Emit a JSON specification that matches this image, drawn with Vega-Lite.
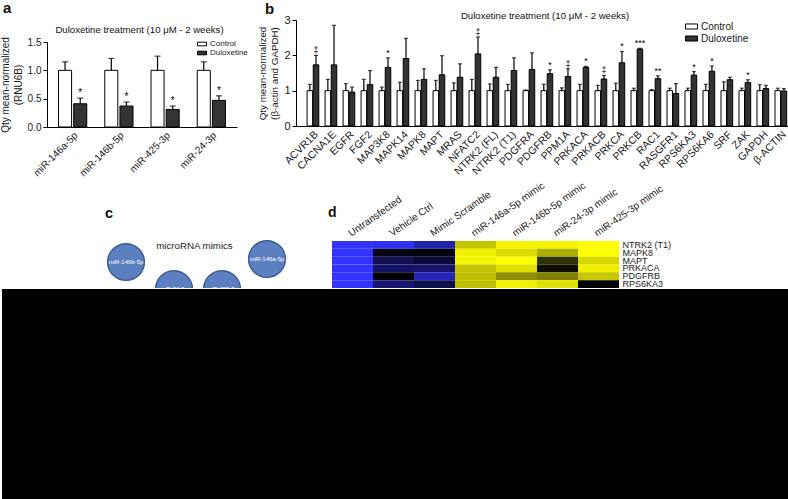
{
  "$schema": "https://vega.github.io/schema/vega-lite/v6.json",
  "padding": 0,
  "background": "white",
  "config": {
    "font": "Liberation Sans",
    "view": {"stroke": null},
    "axis": {"labelFont": "Liberation Sans", "titleFont": "Liberation Sans", "labelColor": "#1a1a1a", "titleColor": "#1a1a1a", "domainColor": "#000000", "tickColor": "#000000", "grid": false, "titleFontWeight": "normal"},
    "legend": {"labelFont": "Liberation Sans", "labelColor": "#1a1a1a"},
    "title": {"font": "Liberation Sans", "color": "#111111"}
  },
  "datasets": {
    "dA": [
      {"g": "miR-146a-5p", "grp": "Control", "v": 1.0, "e": 1.15, "s": ""},
      {"g": "miR-146a-5p", "grp": "Duloxetine", "v": 0.41, "e": 0.51, "s": "*"},
      {"g": "miR-146b-5p", "grp": "Control", "v": 1.0, "e": 1.21, "s": ""},
      {"g": "miR-146b-5p", "grp": "Duloxetine", "v": 0.37, "e": 0.44, "s": "*"},
      {"g": "miR-425-3p", "grp": "Control", "v": 1.0, "e": 1.25, "s": ""},
      {"g": "miR-425-3p", "grp": "Duloxetine", "v": 0.31, "e": 0.37, "s": "*"},
      {"g": "miR-24-3p", "grp": "Control", "v": 1.0, "e": 1.15, "s": ""},
      {"g": "miR-24-3p", "grp": "Duloxetine", "v": 0.47, "e": 0.55, "s": "*"}
    ],
    "dB": [
      {"g": "ACVR1B", "grp": "Control", "v": 1, "e": 1.18, "s": ""},
      {"g": "ACVR1B", "grp": "Duloxetine", "v": 1.73, "e": 2.0, "s": "‡"},
      {"g": "CACNA1E", "grp": "Control", "v": 1, "e": 1.32, "s": ""},
      {"g": "CACNA1E", "grp": "Duloxetine", "v": 1.73, "e": 2.85, "s": ""},
      {"g": "EGFR", "grp": "Control", "v": 1, "e": 1.2, "s": ""},
      {"g": "EGFR", "grp": "Duloxetine", "v": 0.96, "e": 1.1, "s": ""},
      {"g": "FGF2", "grp": "Control", "v": 1, "e": 1.32, "s": ""},
      {"g": "FGF2", "grp": "Duloxetine", "v": 1.17, "e": 1.57, "s": ""},
      {"g": "MAP3K8", "grp": "Control", "v": 1, "e": 1.1, "s": ""},
      {"g": "MAP3K8", "grp": "Duloxetine", "v": 1.66, "e": 1.93, "s": "*"},
      {"g": "MAPK14", "grp": "Control", "v": 1, "e": 1.24, "s": ""},
      {"g": "MAPK14", "grp": "Duloxetine", "v": 1.91, "e": 2.48, "s": ""},
      {"g": "MAPK8", "grp": "Control", "v": 1, "e": 1.29, "s": ""},
      {"g": "MAPK8", "grp": "Duloxetine", "v": 1.32, "e": 1.62, "s": ""},
      {"g": "MAPT", "grp": "Control", "v": 1, "e": 1.29, "s": ""},
      {"g": "MAPT", "grp": "Duloxetine", "v": 1.45, "e": 1.99, "s": ""},
      {"g": "MRAS", "grp": "Control", "v": 1, "e": 1.22, "s": ""},
      {"g": "MRAS", "grp": "Duloxetine", "v": 1.38, "e": 1.76, "s": ""},
      {"g": "NFATC2", "grp": "Control", "v": 1, "e": 1.32, "s": ""},
      {"g": "NFATC2", "grp": "Duloxetine", "v": 2.04, "e": 2.52, "s": "‡"},
      {"g": "NTRK2 (FL)", "grp": "Control", "v": 1, "e": 1.19, "s": ""},
      {"g": "NTRK2 (FL)", "grp": "Duloxetine", "v": 1.38, "e": 1.66, "s": ""},
      {"g": "NTRK2 (T1)", "grp": "Control", "v": 1, "e": 1.18, "s": ""},
      {"g": "NTRK2 (T1)", "grp": "Duloxetine", "v": 1.57, "e": 1.93, "s": ""},
      {"g": "PDGFRA", "grp": "Control", "v": 1, "e": 1.02, "s": ""},
      {"g": "PDGFRA", "grp": "Duloxetine", "v": 1.6, "e": 2.07, "s": ""},
      {"g": "PDGFRB", "grp": "Control", "v": 1, "e": 1.18, "s": ""},
      {"g": "PDGFRB", "grp": "Duloxetine", "v": 1.48, "e": 1.59, "s": "*"},
      {"g": "PPM1A", "grp": "Control", "v": 1, "e": 1.08, "s": ""},
      {"g": "PPM1A", "grp": "Duloxetine", "v": 1.4, "e": 1.62, "s": "‡"},
      {"g": "PRKACA", "grp": "Control", "v": 1, "e": 1.18, "s": ""},
      {"g": "PRKACA", "grp": "Duloxetine", "v": 1.66, "e": 1.69, "s": "*"},
      {"g": "PRKACB", "grp": "Control", "v": 1, "e": 1.15, "s": ""},
      {"g": "PRKACB", "grp": "Duloxetine", "v": 1.33, "e": 1.43, "s": "‡"},
      {"g": "PRKCA", "grp": "Control", "v": 1, "e": 1.21, "s": ""},
      {"g": "PRKCA", "grp": "Duloxetine", "v": 1.79, "e": 2.11, "s": "*"},
      {"g": "PRKCB", "grp": "Control", "v": 1, "e": 1.07, "s": ""},
      {"g": "PRKCB", "grp": "Duloxetine", "v": 2.18, "e": 2.2, "s": "***"},
      {"g": "RAC1", "grp": "Control", "v": 1, "e": 1.03, "s": ""},
      {"g": "RAC1", "grp": "Duloxetine", "v": 1.34, "e": 1.42, "s": "**"},
      {"g": "RASGFR1", "grp": "Control", "v": 1, "e": 1.07, "s": ""},
      {"g": "RASGFR1", "grp": "Duloxetine", "v": 0.92, "e": 1.2, "s": ""},
      {"g": "RPS6KA3", "grp": "Control", "v": 1, "e": 1.07, "s": ""},
      {"g": "RPS6KA3", "grp": "Duloxetine", "v": 1.44, "e": 1.54, "s": "*"},
      {"g": "RPS6KA6", "grp": "Control", "v": 1, "e": 1.18, "s": ""},
      {"g": "RPS6KA6", "grp": "Duloxetine", "v": 1.55, "e": 1.7, "s": "*"},
      {"g": "SRF", "grp": "Control", "v": 1, "e": 1.25, "s": ""},
      {"g": "SRF", "grp": "Duloxetine", "v": 1.31, "e": 1.38, "s": ""},
      {"g": "ZAK", "grp": "Control", "v": 1, "e": 1.07, "s": ""},
      {"g": "ZAK", "grp": "Duloxetine", "v": 1.23, "e": 1.31, "s": "*"},
      {"g": "GAPDH", "grp": "Control", "v": 1, "e": 1.17, "s": ""},
      {"g": "GAPDH", "grp": "Duloxetine", "v": 1.06, "e": 1.15, "s": ""},
      {"g": "β-ACTIN", "grp": "Control", "v": 1, "e": 1.07, "s": ""},
      {"g": "β-ACTIN", "grp": "Duloxetine", "v": 0.99, "e": 1.06, "s": ""}
    ],
    "circ": [
      {"x": 124, "y": 81, "t": "miR-146b-5p"},
      {"x": 172, "y": 108, "t": "miR-24-3p"},
      {"x": 220, "y": 108, "t": "miR-425-3p"},
      {"x": 265, "y": 78, "t": "miR-146a-5p"}
    ],
    "cLetter": [{"x": 103, "y": 37, "t": "c"}],
    "cText": [{"x": 192.5, "y": 65, "t": "microRNA mimics"}],
    "hm": [
      {"r": "NTRK2 (T1)", "c": "Untransfected", "v": -1},
      {"r": "NTRK2 (T1)", "c": "Vehicle Ctrl", "v": -0.95},
      {"r": "NTRK2 (T1)", "c": "Mimic Scramble", "v": -0.68},
      {"r": "NTRK2 (T1)", "c": "miR-146a-5p mimic", "v": 0.77},
      {"r": "NTRK2 (T1)", "c": "miR-146b-5p mimic", "v": 0.96},
      {"r": "NTRK2 (T1)", "c": "miR-24-3p mimic", "v": 0.96},
      {"r": "NTRK2 (T1)", "c": "miR-425-3p mimic", "v": 1.0},
      {"r": "MAPK8", "c": "Untransfected", "v": -1},
      {"r": "MAPK8", "c": "Vehicle Ctrl", "v": -0.08},
      {"r": "MAPK8", "c": "Mimic Scramble", "v": -0.05},
      {"r": "MAPK8", "c": "miR-146a-5p mimic", "v": 0.94},
      {"r": "MAPK8", "c": "miR-146b-5p mimic", "v": 0.86},
      {"r": "MAPK8", "c": "miR-24-3p mimic", "v": 0.68},
      {"r": "MAPK8", "c": "miR-425-3p mimic", "v": 1.0},
      {"r": "MAPT", "c": "Untransfected", "v": -1},
      {"r": "MAPT", "c": "Vehicle Ctrl", "v": -0.33},
      {"r": "MAPT", "c": "Mimic Scramble", "v": -0.22},
      {"r": "MAPT", "c": "miR-146a-5p mimic", "v": 0.96},
      {"r": "MAPT", "c": "miR-146b-5p mimic", "v": 1.0},
      {"r": "MAPT", "c": "miR-24-3p mimic", "v": 0.19},
      {"r": "MAPT", "c": "miR-425-3p mimic", "v": 0.85},
      {"r": "PRKACA", "c": "Untransfected", "v": -1},
      {"r": "PRKACA", "c": "Vehicle Ctrl", "v": -0.4},
      {"r": "PRKACA", "c": "Mimic Scramble", "v": -0.42},
      {"r": "PRKACA", "c": "miR-146a-5p mimic", "v": 0.77},
      {"r": "PRKACA", "c": "miR-146b-5p mimic", "v": 0.88},
      {"r": "PRKACA", "c": "miR-24-3p mimic", "v": 0.06},
      {"r": "PRKACA", "c": "miR-425-3p mimic", "v": 0.94},
      {"r": "PDGFRB", "c": "Untransfected", "v": -1},
      {"r": "PDGFRB", "c": "Vehicle Ctrl", "v": -0.02},
      {"r": "PDGFRB", "c": "Mimic Scramble", "v": -0.72},
      {"r": "PDGFRB", "c": "miR-146a-5p mimic", "v": 0.74},
      {"r": "PDGFRB", "c": "miR-146b-5p mimic", "v": 0.56},
      {"r": "PDGFRB", "c": "miR-24-3p mimic", "v": 0.5},
      {"r": "PDGFRB", "c": "miR-425-3p mimic", "v": 0.78},
      {"r": "RPS6KA3", "c": "Untransfected", "v": -1},
      {"r": "RPS6KA3", "c": "Vehicle Ctrl", "v": -0.45},
      {"r": "RPS6KA3", "c": "Mimic Scramble", "v": -0.3},
      {"r": "RPS6KA3", "c": "miR-146a-5p mimic", "v": 0.74},
      {"r": "RPS6KA3", "c": "miR-146b-5p mimic", "v": 0.94},
      {"r": "RPS6KA3", "c": "miR-24-3p mimic", "v": 0.88},
      {"r": "RPS6KA3", "c": "miR-425-3p mimic", "v": 0.0}
    ]
  },
  "spacing": 0,
  "vconcat": [
    {
      "spacing": 0,
      "hconcat": [
        {
          "title": {"text": "a", "anchor": "start", "frame": "bounds", "fontSize": 15, "fontWeight": "bold", "offset": -16, "dx": 3},
          "vconcat": [
            {
              "width": 250,
              "height": 180,
              "data": {"name": "dA"},
              "title": {"text": "Duloxetine treatment (10 μM - 2 weeks)", "frame": "group", "anchor": "middle", "fontSize": 9.6, "fontWeight": "normal", "offset": -35, "dx": 12.5},
              "encoding": {
                "x": {"field": "g", "type": "nominal", "sort": null, "scale": {"range": [45, 235], "paddingInner": 0.39, "paddingOuter": 0.25}, "axis": {"title": null, "labelAngle": -45, "labelFontSize": 10, "ticks": false, "labelPadding": 3, "offset": -53}},
                "xOffset": {"field": "grp", "type": "nominal", "sort": ["Control", "Duloxetine"], "scale": {"paddingInner": 0.14}}
              },
              "layer": [
                {
                  "mark": {"type": "bar", "stroke": "#000000", "strokeWidth": 1},
                  "encoding": {
                    "y": {"field": "v", "type": "quantitative", "scale": {"domain": [0, 1.5], "nice": false, "range": [127, 42]}, "axis": {"title": ["Qty mean-normalized", "(RNU6B)"], "values": [0, 0.5, 1, 1.5], "format": ".1f", "labelFontSize": 10, "tickSize": 4, "labelPadding": 2, "labelOverlap": false, "titleFontSize": 10, "titlePadding": 4, "titleLineHeight": 13, "offset": -45}},
                    "fill": {"field": "grp", "type": "nominal", "scale": {"domain": ["Control", "Duloxetine"], "range": ["#ffffff", "#333333"]}, "legend": {"title": null, "orient": "none", "legendX": 195, "legendY": 39, "labelFontSize": 8, "symbolType": "M-1,-0.4H1V0.4H-1Z", "symbolSize": 81, "symbolStrokeColor": "#000000", "symbolStrokeWidth": 1, "rowPadding": 0, "labelOffset": 3, "padding": 0}}
                  }
                },
                {
                  "mark": {"type": "rule", "strokeWidth": 1.2, "color": "#000000"},
                  "encoding": {"y": {"field": "v", "type": "quantitative"}, "y2": {"field": "e"}}
                },
                {
                  "mark": {"type": "tick", "thickness": 1.2, "size": 6, "color": "#000000"},
                  "encoding": {"y": {"field": "e", "type": "quantitative"}}
                },
                {
                  "mark": {"type": "text", "fontSize": 10, "dy": -5, "fill": "#000000"},
                  "encoding": {"y": {"field": "e", "type": "quantitative"}, "text": {"field": "s"}}
                }
              ]
            }
          ]
        },
        {
          "title": {"text": "b", "anchor": "start", "frame": "bounds", "fontSize": 15, "fontWeight": "bold", "offset": -17, "dx": 13},
          "vconcat": [
            {
              "width": 538,
              "height": 180,
              "data": {"name": "dB"},
              "title": {"text": "Duloxetine treatment (10 μM - 2 weeks)", "frame": "group", "anchor": "middle", "fontSize": 9.6, "fontWeight": "normal", "offset": -21, "dx": 24},
              "encoding": {
                "x": {"field": "g", "type": "nominal", "sort": null, "scale": {"range": [44, 538], "paddingInner": 0.35, "paddingOuter": 0.4, "align": 0.77}, "axis": {"title": null, "labelAngle": -45, "labelFontSize": 10.5, "ticks": false, "labelPadding": 3, "offset": -54}},
                "xOffset": {"field": "grp", "type": "nominal", "sort": ["Control", "Duloxetine"], "scale": {"paddingInner": 0.1}}
              },
              "layer": [
                {
                  "mark": {"type": "bar", "stroke": "#000000", "strokeWidth": 1},
                  "encoding": {
                    "y": {"field": "v", "type": "quantitative", "scale": {"domain": [0, 3], "nice": false, "range": [126, 20]}, "axis": {"title": ["Qty mean-normalized", "(β-actin and GAPDH)"], "values": [0, 1, 2, 3], "format": "d", "labelFontSize": 11, "tickSize": 4, "labelPadding": 2, "labelOverlap": false, "titleFontSize": 9.8, "titlePadding": 4, "titleLineHeight": 12, "offset": -44}},
                    "fill": {"field": "grp", "type": "nominal", "scale": {"domain": ["Control", "Duloxetine"], "range": ["#ffffff", "#333333"]}, "legend": {"title": null, "orient": "none", "legendX": 433, "legendY": 20, "labelFontSize": 10, "symbolType": "M-1,-0.42H1V0.42H-1Z", "symbolSize": 144, "symbolStrokeColor": "#000000", "symbolStrokeWidth": 1, "rowPadding": 0, "labelOffset": 3, "padding": 0}}
                  }
                },
                {
                  "mark": {"type": "rule", "strokeWidth": 1.2, "color": "#000000"},
                  "encoding": {"y": {"field": "v", "type": "quantitative"}, "y2": {"field": "e"}}
                },
                {
                  "mark": {"type": "tick", "thickness": 1.2, "size": 4, "color": "#000000"},
                  "encoding": {"y": {"field": "e", "type": "quantitative"}}
                },
                {
                  "mark": {"type": "text", "fontSize": 9, "dy": -5, "fill": "#000000"},
                  "encoding": {"y": {"field": "e", "type": "quantitative"}, "text": {"field": "s"}}
                }
              ]
            }
          ]
        }
      ],
      "resolve": {"scale": {"fill": "independent", "x": "independent", "y": "independent", "xOffset": "independent"}, "legend": {"fill": "independent"}}
    },
    {
      "spacing": 0,
      "hconcat": [
        {
          "width": 325,
          "height": 107,
          "encoding": {
            "x": {"field": "x", "type": "quantitative", "scale": {"domain": [0, 325], "nice": false, "zero": false}, "axis": null},
            "y": {"field": "y", "type": "quantitative", "scale": {"domain": [107, 0], "nice": false, "zero": false}, "axis": null}
          },
          "layer": [
            {
              "data": {"name": "circ"},
              "mark": {"type": "point", "shape": "circle", "filled": true, "fill": "#5b7fbf", "stroke": "#3d5e99", "strokeWidth": 1.5, "opacity": 1, "size": 1350, "clip": true}
            },
            {
              "data": {"name": "circ"},
              "mark": {"type": "text", "fill": "#ffffff", "fontSize": 6, "clip": true},
              "encoding": {"text": {"field": "t"}}
            },
            {
              "data": {"name": "cLetter"},
              "mark": {"type": "text", "fontSize": 14.5, "fontWeight": "bold", "align": "left", "baseline": "alphabetic", "fill": "#111111"},
              "encoding": {"text": {"field": "t"}}
            },
            {
              "data": {"name": "cText"},
              "mark": {"type": "text", "fontSize": 9.7, "align": "center", "baseline": "middle", "fill": "#222222"},
              "encoding": {"text": {"field": "t"}}
            }
          ]
        },
        {
          "width": 463,
          "height": 107,
          "data": {"name": "hm"},
          "title": {"text": "d", "anchor": "start", "frame": "group", "fontSize": 14, "fontWeight": "bold", "dx": 1, "offset": -40},
          "mark": {"type": "rect"},
          "encoding": {
            "x": {"field": "c", "type": "nominal", "sort": null, "scale": {"range": [5, 292], "paddingInner": 0, "paddingOuter": 0}, "axis": {"orient": "top", "title": null, "labelAngle": -35, "labelAlign": "left", "labelBaseline": "bottom", "ticks": false, "domain": false, "labelFontSize": 10, "labelPadding": 3, "labelBound": false, "offset": -60}},
            "y": {"field": "r", "type": "nominal", "sort": null, "scale": {"range": [60, 107], "paddingInner": 0, "paddingOuter": 0}, "axis": {"orient": "right", "title": null, "ticks": false, "domain": false, "labelFontSize": 9, "labelPadding": 3, "labelOverlap": false, "labelBaseline": "middle", "labelBound": false, "offset": -171}},
            "fill": {"field": "v", "type": "quantitative", "scale": {"domain": [-1, 0, 1], "range": ["#3333ff", "#000000", "#ffff00"], "interpolate": "rgb"}, "legend": null}
          }
        }
      ],
      "resolve": {"scale": {"x": "independent", "y": "independent"}}
    },
    {
      "width": 788,
      "height": 212,
      "view": {"fill": "#000000", "stroke": null},
      "data": {"values": [{"k": 1}]},
      "mark": {"type": "text"},
      "encoding": {"text": {"value": ""}}
    }
  ],
  "resolve": {"scale": {"x": "independent", "y": "independent", "fill": "independent"}, "legend": {"fill": "independent"}}
}
